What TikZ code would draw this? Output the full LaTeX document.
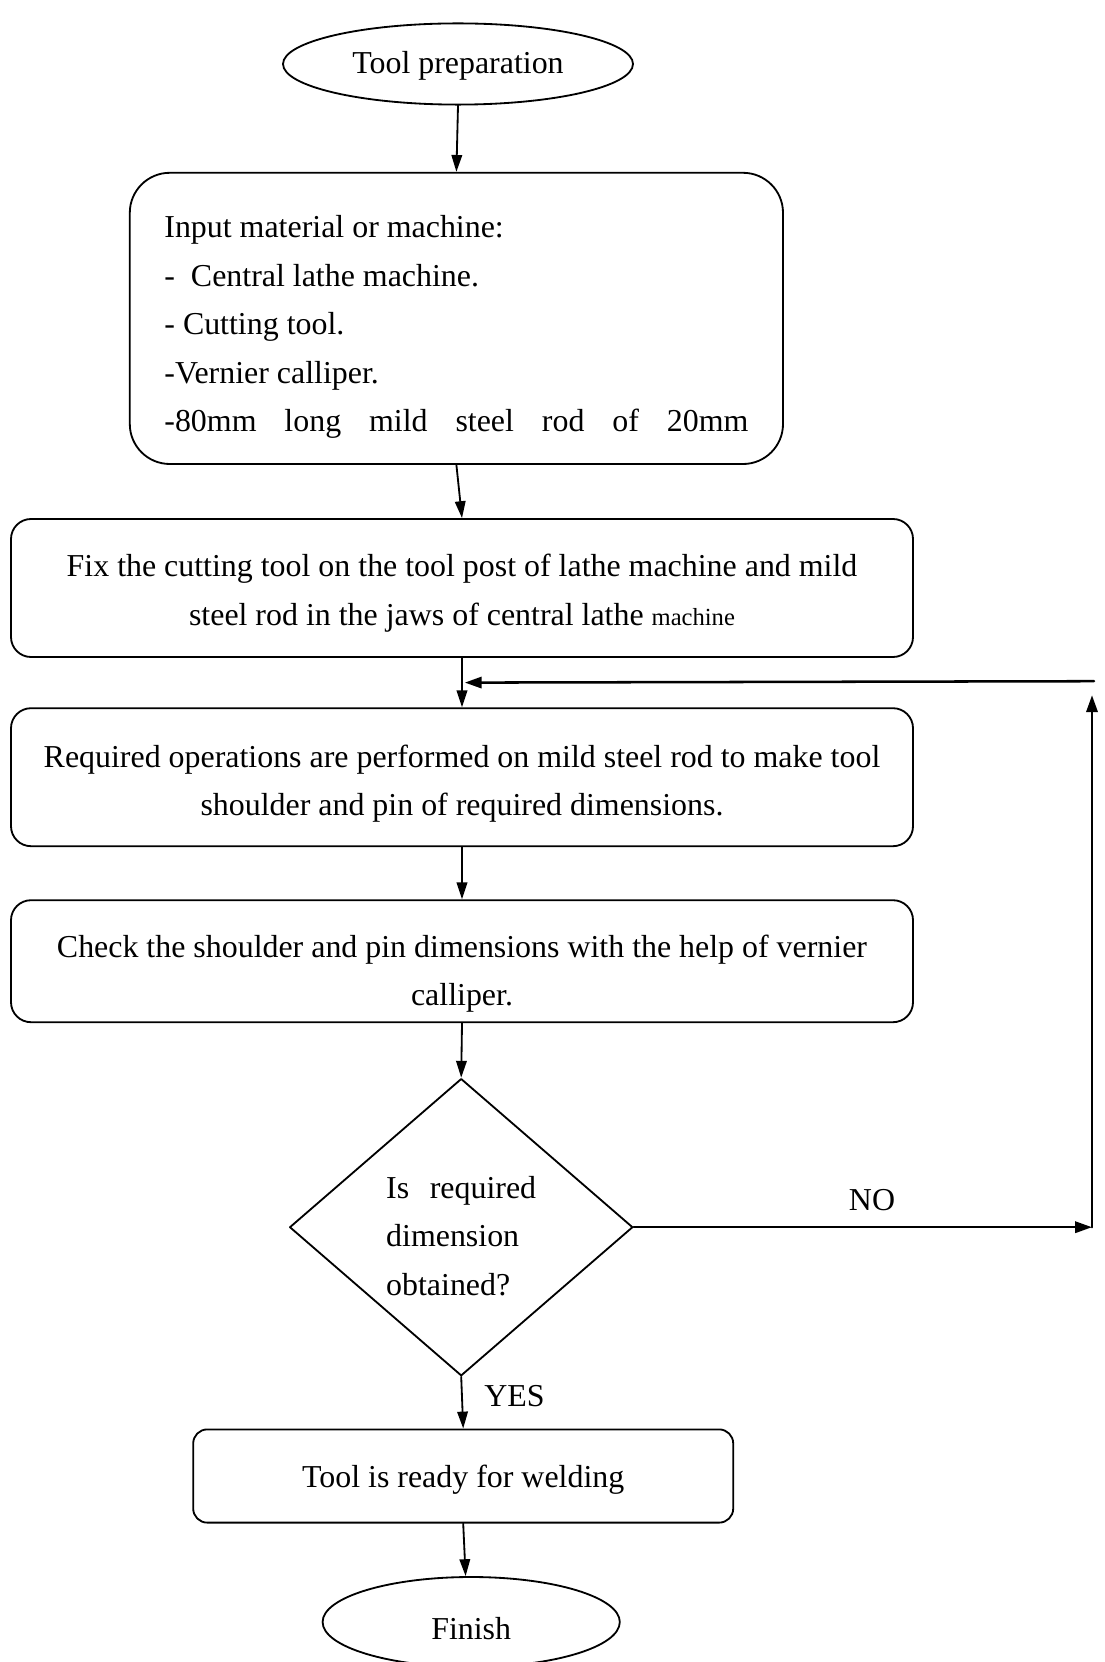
\documentclass[tikz,border=0pt]{standalone}
\usepackage{fontspec}
\setmainfont{Liberation Serif}
\usetikzlibrary{shapes.geometric,arrows.meta,calc}
\newcommand\dropby[1]{\rule{0pt}{\dimexpr16pt+#1*2\relax}}

\begin{document}
\begin{tikzpicture}[line cap=round,line join=round,
  txt/.style={font=\fontsize{22.7}{34.5}\selectfont},
  terminal/.style={draw,ellipse,line width=1.3pt,txt,inner sep=0pt},
  procbox/.style={draw,rectangle,rounded corners=0.5cm,line width=1.3pt,txt,align=center,inner sep=0pt},
  decision/.style={draw,diamond,line width=1.3pt,txt,align=left,inner sep=0pt},
  lbl/.style={txt,inner sep=0pt},
  arr/.style={line width=1.3pt,-{Triangle[length=12pt,width=7.5pt]}},
  looparr/.style={line width=1.8pt,-{Triangle[length=12pt,width=8pt]}}]
  \useasboundingbox (0,0) rectangle (27.6,-41.55);
  \node[terminal,minimum width=8.75cm,minimum height=2.03cm] (prep) at (11.45,-1.6) {\dropby{1.5pt}Tool preparation};
  \node[procbox,rounded corners=1cm,align=left,minimum width=16.33cm,minimum height=7.28cm] (input) at (11.41,-7.96)
    {\dropby{6pt}Input material or machine:\\
     -\ \ Central lathe machine.\\
     - Cutting tool.\\
     -Vernier calliper.\\
     \makebox[14.6cm][s]{-80mm long mild steel rod of 20mm}};
  \node[procbox,minimum width=22.55cm,minimum height=3.45cm] (fix) at (11.55,-14.7)
    {\dropby{3.8pt}Fix the cutting tool on the tool post of lathe machine and mild\\
     steel rod in the jaws of central lathe {\fontsize{17.5}{20}\selectfont machine}};
  \node[procbox,minimum width=22.55cm,minimum height=3.45cm] (ops) at (11.55,-19.43)
    {\dropby{4.5pt}Required operations are performed on mild steel rod to make tool\\
     shoulder and pin of required dimensions.};
  \node[procbox,minimum width=22.55cm,minimum height=3.05cm] (check) at (11.55,-24.03)
    {\dropby{9pt}Check the shoulder and pin dimensions with the help of vernier\\
     calliper.};
  \node[decision,minimum width=8.58cm,minimum height=7.43cm] (dec) at (11.53,-30.68)
    {\dropby{6pt}\makebox[3.75cm][s]{Is required}\\dimension\\obtained?};
  \node[procbox,rounded corners=0.35cm,minimum width=13.5cm,minimum height=2.33cm] (ready) at (11.58,-36.9)
    {\dropby{2.3pt}Tool is ready for welding};
  \node[terminal,minimum width=7.43cm,minimum height=2.25cm] (finish) at (11.78,-40.55) {\dropby{4.5pt}Finish};
  % main flow
  \draw[arr] (prep.south) -- (input.north);
  \draw[arr] (input.south) -- (fix.north);
  \draw[arr] (fix.south) -- (ops.north);
  \draw[arr] (ops.south) -- (check.north);
  \draw[arr] (check.south) -- (dec.north);
  \draw[arr] (dec.south) -- (ready.north);
  \draw[arr] (ready.south) -- ([xshift=-0.14cm]finish.north);
  \node[lbl,anchor=west] (yeslbl) at (12.1,-34.9) {YES};
  % loop back
  \coordinate (noend) at (27.3,-30.68);
  \coordinate (upend) at (27.3,-17.38);
  \coordinate (backstart) at (27.35,-17.03);
  \coordinate (merge) at ($(fix.south)!0.5!(ops.north)$);
  \draw[looparr] (dec.east) -- node[lbl,pos=0.52,above=0.38cm] (nolbl) {NO} (noend);
  \draw[looparr] (noend) -- (upend);
  \draw[looparr] (backstart) -- ([xshift=2pt]merge);
\end{tikzpicture}
\end{document}
